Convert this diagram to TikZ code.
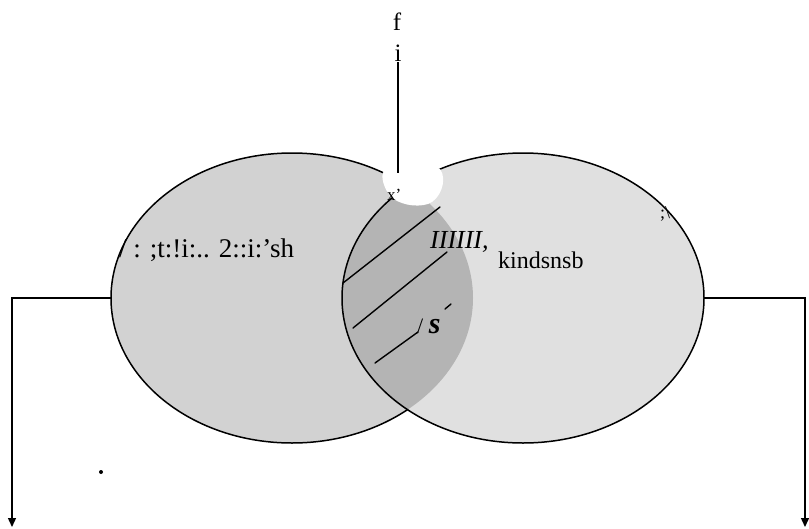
\documentclass[tikz,border=0pt]{standalone}
\usepackage{fontspec}
\setmainfont{Liberation Serif}
\usetikzlibrary{shapes.geometric,arrows.meta}
\definecolor{lfill}{HTML}{D2D2D2}
\definecolor{rfill}{HTML}{E0E0E0}
\definecolor{lensfill}{HTML}{B4B4B4}
\begin{document}
\begin{tikzpicture}[x=1pt,y=-1pt,
  venn/.style={ellipse,minimum width=362pt,minimum height=290pt,inner sep=0pt},
  outline/.style={line width=1.5pt,black},
  conn/.style={line width=1.4pt,black},
  tip/.style={-{Triangle[width=8pt,length=9pt]}},
  hatch/.style={line width=1.4pt,black,line cap=round},
  lbl/.style={inner sep=0pt,anchor=base west},
  lblc/.style={inner sep=0pt,anchor=base}]
\useasboundingbox[fill=white] (0,0) rectangle (809,528);
% anchor nodes for the two sets
\node[venn] (L) at (292,298) {};
\node[venn] (R) at (523,298) {};
% fills
\fill[lfill] (L.center) ellipse [x radius=181pt,y radius=145pt];
\fill[rfill] (R.center) ellipse [x radius=181pt,y radius=145pt];
\begin{scope}
  \clip (R.center) ellipse [x radius=181pt,y radius=145pt];
  \fill[lensfill] (L.center) ellipse [x radius=181pt,y radius=145pt];
\end{scope}
% outlines
\begin{scope}[even odd rule]
  \clip (-10,-10) rectangle (820,540) (R.center) ellipse [x radius=181pt,y radius=145pt];
  \draw[outline] (L.center) ellipse [x radius=181pt,y radius=145pt];
\end{scope}
\draw[outline] (R.center) ellipse [x radius=181pt,y radius=145pt];
% hatch lines in the overlap
\coordinate (h1a) at (343,283); \coordinate (h1b) at (440,207);
\coordinate (h2a) at (353,328); \coordinate (h2b) at (447,252);
\coordinate (h3a) at (375,363); \coordinate (h3b) at (418,332);
\coordinate (h4a) at (445,309); \coordinate (h4b) at (451,304);
\draw[hatch] (h1a) -- (h1b);
\draw[hatch] (h2a) -- (h2b);
\draw[hatch] (h3a) -- (h3b);
\draw[hatch] (h4a) -- (h4b);
% white gap at the top of the overlap
\fill[white] (384,171) .. controls (400,166) and (430,164) .. (440,169)
  .. controls (448,180) and (440,200) .. (428,204)
  .. controls (415,208) and (398,204) .. (390,196)
  .. controls (384,188) and (380,176) .. cycle;
% top labels and line
\node[lblc,font=\fontsize{25}{25}\selectfont] (f) at (397,30) {f};
\node[lblc,font=\fontsize{25}{25}\selectfont] (i) at (398,61) {i};
\coordinate (ltop) at (398,173);
\draw[conn] (i.south) ++(0,1) -- (ltop);
% side connectors
\coordinate (lend) at (12,527);
\coordinate (rend) at (805,527);
\draw[conn,tip] (L.west) -| (lend);
\draw[conn,tip] (R.east) -| (rend);
% texts
\node[lbl,font=\fontsize{17}{17}\selectfont] (xp) at (387,200) {x'};
\node[lbl,font=\fontsize{27}{27}\selectfont] (lt) at (119,257) {/ : ;t:!i:.. 2::i:'sh};
\node[lbl,font=\fontsize{26}{26}\selectfont\itshape] (ii) at (430,248) {IIIIII,};
\node[lbl,font=\fontsize{24}{24}\selectfont] (kd) at (498,268) {kindsnsb};
\node[lbl] (sl) at (417,333) {{\fontsize{22}{22}\selectfont/ }{\fontsize{30}{30}\selectfont\bfseries\itshape s}};
\node[lbl,font=\fontsize{18}{18}\selectfont] (sc) at (660,218) {;\textbackslash};
% small dot
\fill (101,472) circle [radius=2pt];
\end{tikzpicture}
\end{document}
